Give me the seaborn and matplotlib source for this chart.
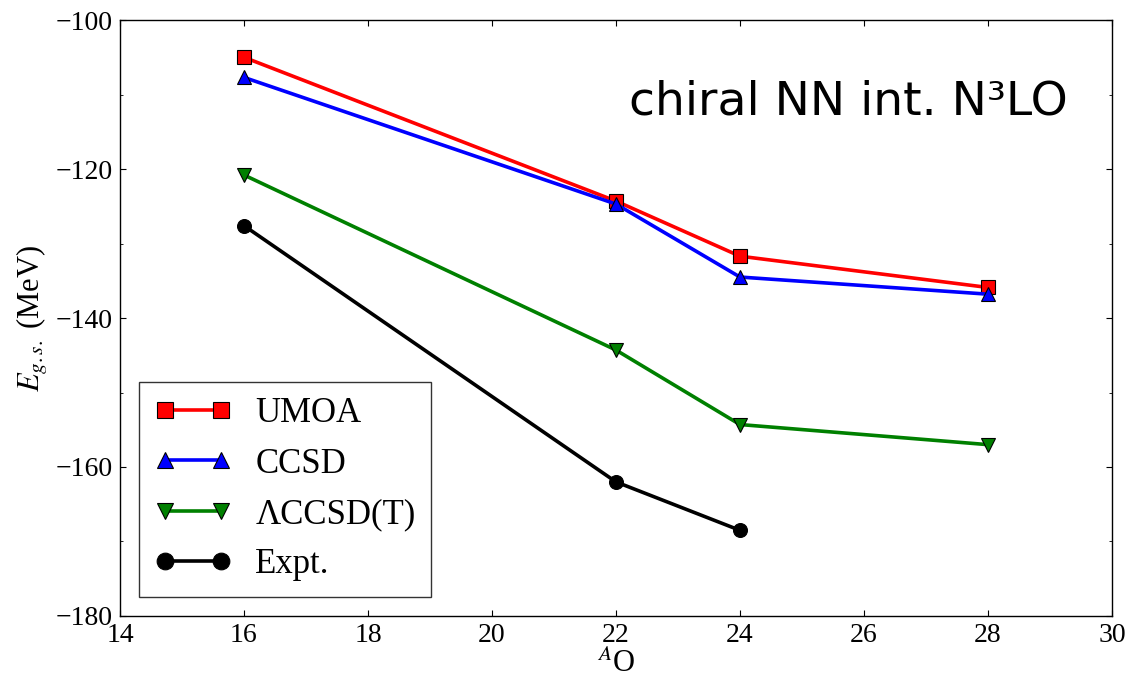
import pandas as pd
import matplotlib
matplotlib.use("Agg")
import matplotlib.pyplot as plt
from matplotlib.ticker import MultipleLocator
import seaborn as sns

# data (ground-state energies of O isotopes, MeV)
mass_numbers = [16, 22, 24, 28]
umoa = [-105.0, -124.3, -131.7, -135.9]
ccsd = [-107.7, -124.7, -134.5, -136.8]
lccsdt = [-120.8, -144.3, -154.3, -157.0]
expt_mass = [16, 22, 24]
expt = [-127.6, -162.0, -168.5]

series = [
    ("UMOA", mass_numbers, umoa, "red", "s"),
    ("CCSD", mass_numbers, ccsd, "blue", "^"),
    ("\u039bCCSD(T)", mass_numbers, lccsdt, "green", "v"),
    ("Expt.", expt_mass, expt, "black", "o"),
]

sns.set_style("ticks")
plt.rcParams.update({
    "font.family": ["Liberation Serif", "DejaVu Serif"],
    "mathtext.fontset": "stix",
    "text.color": "black",
    "axes.labelcolor": "black",
    "xtick.color": "black",
    "ytick.color": "black",
    "xtick.direction": "in",
    "ytick.direction": "in",
    "xtick.top": True,
    "ytick.right": True,
    "xtick.major.size": 4.5,
    "ytick.major.size": 4.5,
    "ytick.minor.size": 2.5,
    "axes.linewidth": 1.0,
    "axes.edgecolor": "black",
})

fig = plt.figure(figsize=(11.38, 6.79), dpi=100)
ax = fig.add_axes([0.1054, 0.0928, 0.8717, 0.8777])

for name, xs, ys, col, mk in series:
    df = pd.DataFrame({"A": xs, "E": ys})
    sns.lineplot(data=df, x="A", y="E", ax=ax, color=col, marker=mk,
                 markersize=10, markeredgecolor="black", markeredgewidth=0.8,
                 linewidth=2.6, label=name)

ax.set_xlim(14, 30)
ax.set_ylim(-180, -100)
ax.xaxis.set_major_locator(MultipleLocator(2))
ax.yaxis.set_major_locator(MultipleLocator(20))
ax.yaxis.set_minor_locator(MultipleLocator(10))
ax.tick_params(which="both", direction="in", top=True, right=True,
               labelsize=20, pad=5)

ax.set_xlabel(r"$^{A}$O", fontsize=22, labelpad=0.5)
ax.set_ylabel(r"$E_{g.s.}$ (MeV)", fontsize=22, labelpad=4)

ax.text(0.9556, 0.842, "chiral NN int. N\u00b3LO", transform=ax.transAxes,
        fontsize=34, family="DejaVu Sans", ha="right", va="baseline")

leg = ax.legend(loc="lower left", bbox_to_anchor=(0.0, 0.0), numpoints=2,
                fontsize=25, frameon=True, fancybox=False, handlelength=2.2,
                borderpad=0.45, labelspacing=0.5, handletextpad=0.7,
                borderaxespad=0.55, markerscale=1.2)
leg.get_frame().set_edgecolor("black")
leg.get_frame().set_linewidth(1.0)

fig.savefig("out.png", dpi=100)
